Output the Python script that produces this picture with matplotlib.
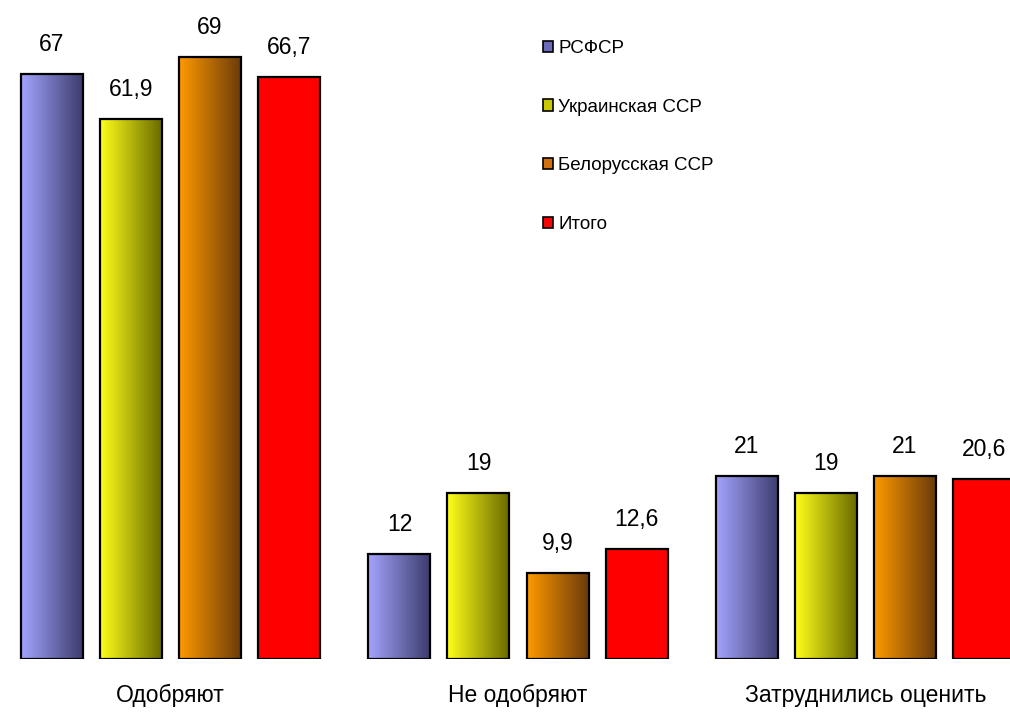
import numpy as np
import matplotlib
matplotlib.use("Agg")
from matplotlib import pyplot as plt
from matplotlib.colors import LinearSegmentedColormap
from matplotlib.patches import Patch

categories = ["Одобряют", "Не одобряют", "Затруднились оценить"]
series = ["РСФСР", "Украинская ССР", "Белорусская ССР", "Итого"]
values = [
    [67, 12, 21],
    [61.9, 19, 19],
    [69, 9.9, 21],
    [66.7, 12.6, 20.6],
]
labels = [
    ["67", "12", "21"],
    ["61,9", "19", "19"],
    ["69", "9,9", "21"],
    ["66,7", "12,6", "20,6"],
]
# light (left) -> dark (right) for each series
gradients = [
    ("#a4a4ff", "#3c3c6e"),
    ("#ffff1a", "#6a6a00"),
    ("#ff9a00", "#6a3a0a"),
    ("#ff0000", "#ff0000"),
]
legend_colors = ["#6a6ab8", "#c8c800", "#d07010", "#ff0000"]

plt.rcParams["font.family"] = ["Liberation Sans", "DejaVu Sans"]

fig = plt.figure(figsize=(10.1, 7.16), dpi=100)
ax = fig.add_axes([0, 57 / 716, 1, 659 / 716])

step = 79 / 347.5
width = 62 / 347.5
x = np.arange(len(categories))
grad = np.linspace(0, 1, 256).reshape(1, -1)

for i, name in enumerate(series):
    cmap = LinearSegmentedColormap.from_list(name, gradients[i])
    pos = x + (i - 1.5) * step
    bars = ax.bar(pos, values[i], width, facecolor="none", edgecolor="black",
                  linewidth=1.6, zorder=3)
    for b in bars:
        x0, w, h = b.get_x(), b.get_width(), b.get_height()
        ax.imshow(grad, cmap=cmap, aspect="auto", extent=(x0, x0 + w, 0, h),
                  zorder=2, interpolation="bilinear")
    for p, v, t in zip(pos, values[i], labels[i]):
        ax.annotate(t, (p, v), xytext=(0, 13), textcoords="offset points",
                    ha="center", va="bottom", fontsize=16.5)

for c, name in zip(x, categories):
    ax.annotate(name, (c, 0), xytext=(0, -26), textcoords="offset points",
                ha="center", va="center", fontsize=16.5, annotation_clip=False)

ax.set_xlim(-170.5 / 347.5, (1010 - 170.5) / 347.5)
ax.set_ylim(0, 75.5)
ax.axis("off")

handles = [Patch(facecolor=c, edgecolor="black", linewidth=1.2) for c in legend_colors]
fig.legend(handles, series, loc="upper left", bbox_to_anchor=(543 / 1010, 1 - 40 / 716),
           frameon=False, fontsize=13.5, handlelength=0.55, handleheight=0.55,
           handletextpad=0.25, labelspacing=2.22, borderpad=0, borderaxespad=0)

fig.savefig("out.png", dpi=100)
